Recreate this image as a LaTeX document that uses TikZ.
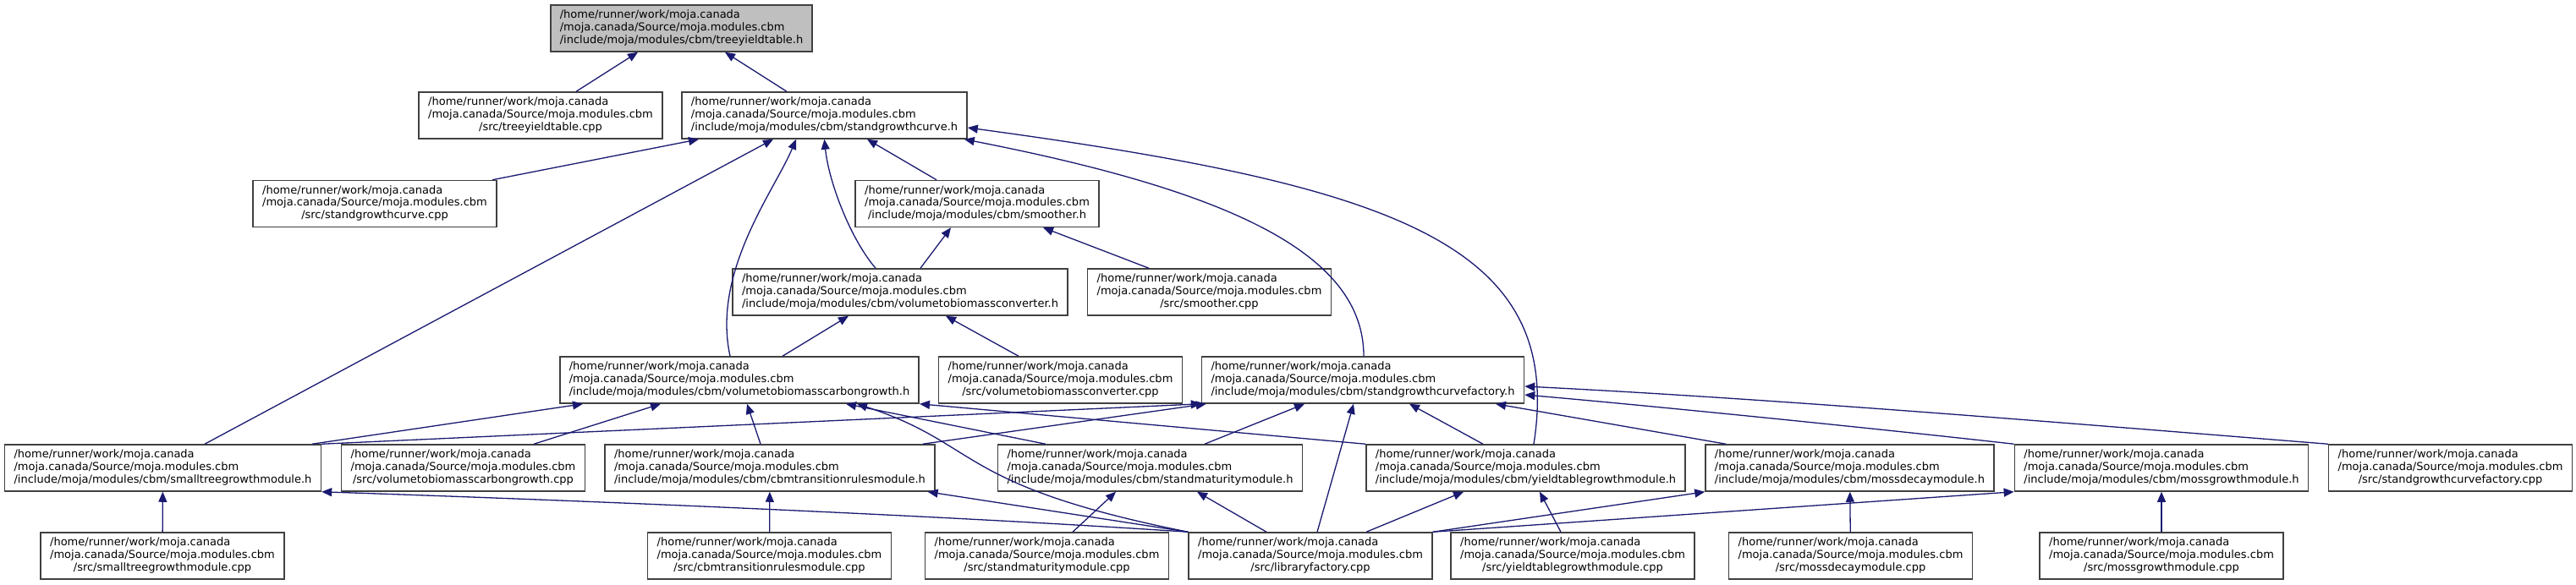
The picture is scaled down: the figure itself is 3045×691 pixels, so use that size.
\documentclass[tikz,border=0pt]{standalone}
\usepackage{fontspec}
\setmainfont{DejaVu Sans}
\usepackage{xcolor}
\usepackage{tikz}
\usetikzlibrary{arrows.meta,positioning}

\definecolor{edgeblue}{HTML}{191970}
\definecolor{boxgray}{HTML}{404040}
\definecolor{rootgray}{HTML}{BFBFBF}

% three-line file label, last line centred
\newcommand{\incpath}[1]{\begin{tabular}{@{}l@{}}/home/runner/work/moja.canada\\
  /moja.canada/Source/moja.modules.cbm\\\multicolumn{1}{@{}c@{}}{#1}\end{tabular}}

\begin{document}
\begin{tikzpicture}[x=1pt,y=-1pt,
    incfile/.style={draw=boxgray,line width=1.5pt,fill=white,inner xsep=11pt,
      inner ysep=5pt,minimum height=55pt,font=\fontsize{13}{14.7}\selectfont},
    rootfile/.style={incfile,fill=rootgray},
    dep/.style={-{Triangle[length=12pt,width=10pt]},draw=edgeblue,line width=1.3pt}
  ]
    \useasboundingbox (0,0) rectangle (3045,691);
    % row 1
    \node[rootfile] (root) at (805.5,33.5) {\incpath{/include/moja/modules/cbm/treeyieldtable.h}};
    % row 2
    \node[incfile] (tytcpp) at (639,136.5) {\incpath{/src/treeyieldtable.cpp}};
    \node[incfile] (sgch) at (974.5,136.5) {\incpath{/include/moja/modules/cbm/standgrowthcurve.h}};
    % row 3
    \node[incfile] (sgccpp) at (443,241) {\incpath{/src/standgrowthcurve.cpp}};
    \node[incfile] (smoothh) at (1155,241) {\incpath{/include/moja/modules/cbm/smoother.h}};
    % row 4
    \node[incfile] (vbconvh) at (1064,345.5) {\incpath{/include/moja/modules/cbm/volumetobiomassconverter.h}};
    \node[incfile] (smoothcpp) at (1429.5,345.5) {\incpath{/src/smoother.cpp}};
    % row 5
    \node[incfile] (vbcgh) at (874,449.5) {\incpath{/include/moja/modules/cbm/volumetobiomasscarbongrowth.h}};
    \node[incfile] (vbconvcpp) at (1253.5,449.5) {\incpath{/src/volumetobiomassconverter.cpp}};
    \node[incfile] (sgcfh) at (1611,449.5) {\incpath{/include/moja/modules/cbm/standgrowthcurvefactory.h}};
    % row 6
    \node[incfile] (smalltreeh) at (192.5,553.5) {\incpath{/include/moja/modules/cbm/smalltreegrowthmodule.h}};
    \node[incfile] (vbcgcpp) at (547.5,553.5) {\incpath{/src/volumetobiomasscarbongrowth.cpp}};
    \node[incfile] (cbmtrh) at (910,553.5) {\incpath{/include/moja/modules/cbm/cbmtransitionrulesmodule.h}};
    \node[incfile] (smath) at (1359.5,553.5) {\incpath{/include/moja/modules/cbm/standmaturitymodule.h}};
    \node[incfile] (ytgh) at (1803.5,553.5) {\incpath{/include/moja/modules/cbm/yieldtablegrowthmodule.h}};
    \node[incfile] (mossdech) at (2186.5,553.5) {\incpath{/include/moja/modules/cbm/mossdecaymodule.h}};
    \node[incfile] (mossgrh) at (2555,553.5) {\incpath{/include/moja/modules/cbm/mossgrowthmodule.h}};
    \node[incfile] (sgcfcpp) at (2896.5,553.5) {\incpath{/src/standgrowthcurvefactory.cpp}};
    % row 7
    \node[incfile] (smalltreecpp) at (192,657.5) {\incpath{/src/smalltreegrowthmodule.cpp}};
    \node[incfile] (cbmtrcpp) at (909.5,657.5) {\incpath{/src/cbmtransitionrulesmodule.cpp}};
    \node[incfile] (smatcpp) at (1237.5,657.5) {\incpath{/src/standmaturitymodule.cpp}};
    \node[incfile] (libcpp) at (1549,657.5) {\incpath{/src/libraryfactory.cpp}};
    \node[incfile] (ytgcpp) at (1859,657.5) {\incpath{/src/yieldtablegrowthmodule.cpp}};
    \node[incfile] (mossdeccpp) at (2187.5,657.5) {\incpath{/src/mossdecaymodule.cpp}};
    \node[incfile] (mossgrcpp) at (2555,657.5) {\incpath{/src/mossgrowthmodule.cpp}};

    % includes of treeyieldtable.h
    \draw[dep] ([xshift=42pt]tytcpp.north) -- ([xshift=-51.5pt]root.south);
    \draw[dep] ([xshift=-44.5pt]sgch.north) -- ([xshift=51.5pt]root.south);
    % includes of standgrowthcurve.h
    \draw[dep] ([xshift=139pt]sgccpp.north) -- ([xshift=-148.5pt]sgch.south);
    \draw[dep] ([xshift=49.5pt]smalltreeh.north) -- ([xshift=-60.5pt]sgch.south);
    \draw[dep] ([xshift=-11pt]vbcgh.north) .. controls +(-22,-100) and +(-25,60) .. ([xshift=-33.5pt]sgch.south);
    \draw[dep] ([xshift=-29pt]vbconvh.north) .. controls +(-30,-35) and +(5,50) .. (sgch.south);
    \draw[dep] ([xshift=-48pt]smoothh.north) -- ([xshift=50.5pt]sgch.south);
    \draw[dep] ([xshift=1pt]sgcfh.north) .. controls +(0,-122) and +(312,61) .. ([xshift=-4pt]sgch.south east);
    \draw[dep] ([xshift=9.5pt]ytgh.north) .. controls +(37,-236) and +(508,69) .. ([yshift=-14.5pt]sgch.east);
    % smoother.h and volumetobiomassconverter.h
    \draw[dep] ([xshift=-71.5pt]smoothcpp.north) -- ([xshift=78pt]smoothh.south);
    \draw[dep] ([xshift=24pt]vbconvh.north) -- ([xshift=-31pt]smoothh.south);
    \draw[dep] ([xshift=51pt]vbcgh.north) -- ([xshift=-61pt]vbconvh.south);
    \draw[dep] ([xshift=-49.5pt]vbconvcpp.north) -- ([xshift=54pt]vbconvh.south);
    % volumetobiomasscarbongrowth.h
    \draw[dep] ([xshift=176.5pt]smalltreeh.north) -- ([xshift=-185pt]vbcgh.south);
    \draw[dep] ([xshift=83.5pt]vbcgcpp.north) -- ([xshift=-93pt]vbcgh.south);
    \draw[dep] ([xshift=-11pt]cbmtrh.north) -- ([xshift=9pt]vbcgh.south);
    \draw[dep] ([xshift=-123.5pt]smath.north) -- ([xshift=126pt]vbcgh.south);
    \draw[dep] (ytgh.north west) -- (vbcgh.south east);
    \draw[dep] (libcpp.north west) .. controls +(-276,-55) and +(147,48) .. ([xshift=139pt]vbcgh.south);
    % standgrowthcurvefactory.h
    \draw[dep] (smalltreeh.north east) -- (sgcfh.south west);
    \draw[dep] ([xshift=-15pt]cbmtrh.north east) -- ([xshift=6pt]sgcfh.south west);
    \draw[dep] ([xshift=64.5pt]smath.north) -- ([xshift=-69pt]sgcfh.south);
    \draw[dep] ([xshift=8pt]libcpp.north) -- ([xshift=-11pt]sgcfh.south);
    \draw[dep] ([xshift=-50.5pt]ytgh.north) -- ([xshift=55pt]sgcfh.south);
    \draw[dep] ([xshift=25pt]mossdech.north west) -- ([xshift=157pt]sgcfh.south);
    \draw[dep] (mossgrh.north west) .. controls +(-150,-17) and +(150,13) .. ([yshift=-17.5pt]sgcfh.east);
    \draw[dep] (sgcfcpp.north west) .. controls +(-300,-24) and +(300,15) .. ([yshift=-7.5pt]sgcfh.east);
    % module headers
    \draw[dep] (smalltreecpp) -- (smalltreeh);
    \draw[dep] (libcpp.north west) .. controls +(-300,-20) and +(300,10) .. (smalltreeh.south east);
    \draw[dep] (cbmtrcpp) -- (cbmtrh);
    \draw[dep] (libcpp.north west) -- ([xshift=-9pt]cbmtrh.south east);
    \draw[dep] ([xshift=30.5pt]smatcpp.north) -- ([xshift=-40.5pt]smath.south);
    \draw[dep] ([xshift=-52pt]libcpp.north) -- ([xshift=55.5pt]smath.south);
    \draw[dep] ([xshift=66pt]libcpp.north) -- ([xshift=-73.5pt]ytgh.south);
    \draw[dep] ([xshift=-14pt]ytgcpp.north) -- ([xshift=16.5pt]ytgh.south);
    \draw[dep] (libcpp.north east) -- (mossdech.south west);
    \draw[dep] (libcpp.north east) -- (mossgrh.south west);
    \draw[dep] (mossdeccpp) -- (mossdech);
    \draw[dep] (mossgrcpp) -- (mossgrh);
\end{tikzpicture}
\end{document}
